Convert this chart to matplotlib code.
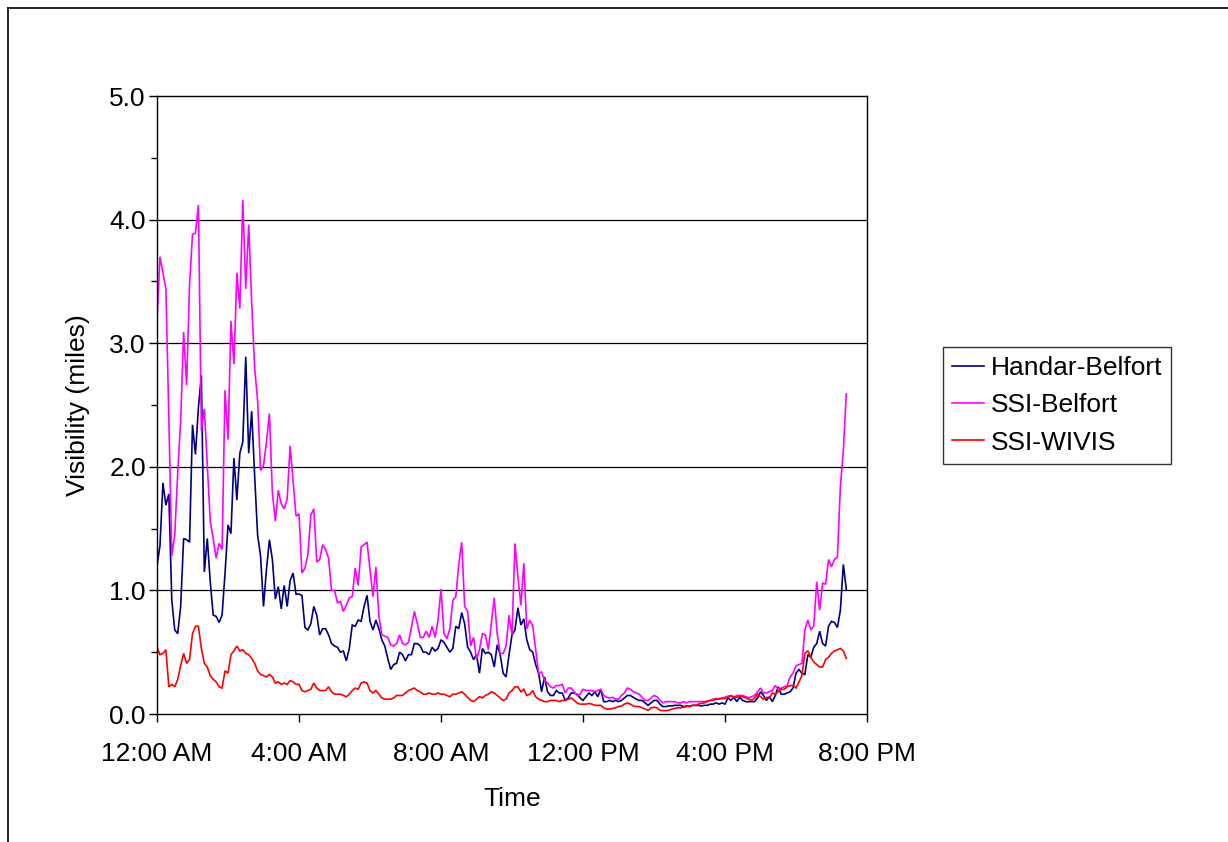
import numpy as np
import matplotlib
matplotlib.use("Agg")
import matplotlib.pyplot as plt
from matplotlib.lines import Line2D

plt.rcParams['font.family'] = ['Liberation Sans', 'DejaVu Sans']

# 5-minute visibility readings (miles), starting at midnight
handar_belfort = [
    1.20, 1.36, 1.87, 1.69, 1.78, 0.92, 0.68, 0.65, 0.87, 1.42,
    1.41, 1.39, 2.34, 2.10, 2.48, 2.74, 1.15, 1.42, 1.07, 0.80,
    0.79, 0.74, 0.80, 1.14, 1.53, 1.46, 2.07, 1.73, 2.11, 2.20,
    2.89, 2.11, 2.45, 1.93, 1.45, 1.28, 0.87, 1.17, 1.41, 1.25,
    0.93, 1.03, 0.85, 1.04, 0.87, 1.08, 1.14, 0.97, 0.97, 0.96,
    0.70, 0.68, 0.73, 0.87, 0.80, 0.64, 0.69, 0.69, 0.64, 0.57,
    0.55, 0.54, 0.50, 0.51, 0.43, 0.53, 0.72, 0.71, 0.76, 0.75,
    0.87, 0.96, 0.75, 0.68, 0.76, 0.69, 0.60, 0.55, 0.45,
    0.36, 0.40, 0.41, 0.50, 0.48, 0.43, 0.48, 0.48, 0.57, 0.57,
    0.55, 0.50, 0.50, 0.48, 0.54, 0.51, 0.53, 0.60, 0.58, 0.54,
    0.50, 0.53, 0.71, 0.69, 0.82, 0.73, 0.54, 0.50, 0.44, 0.48,
    0.33, 0.53, 0.49, 0.50, 0.48, 0.38, 0.56, 0.48, 0.33,
    0.30, 0.48, 0.64, 0.68, 0.86, 0.72, 0.77, 0.60, 0.52, 0.50,
    0.40, 0.33, 0.18, 0.30, 0.18, 0.15, 0.15, 0.19, 0.17, 0.17,
    0.11, 0.13, 0.17, 0.17, 0.16, 0.13, 0.11, 0.14,
    0.17, 0.15, 0.18, 0.14, 0.20, 0.10, 0.10, 0.11, 0.10, 0.11,
    0.10, 0.11, 0.13, 0.15, 0.15, 0.135, 0.12, 0.11, 0.11, 0.09,
    0.07, 0.09, 0.11, 0.11, 0.08, 0.06, 0.06, 0.065, 0.065, 0.07,
    0.07, 0.07, 0.06, 0.065, 0.06, 0.07, 0.07, 0.07, 0.065, 0.07,
    0.07, 0.08, 0.08, 0.09, 0.08, 0.09, 0.08, 0.13, 0.11, 0.135,
    0.10, 0.135,
    0.11, 0.10, 0.10, 0.10, 0.10, 0.13, 0.18, 0.15, 0.11, 0.14,
    0.10, 0.15, 0.22, 0.16, 0.16, 0.17, 0.18, 0.21, 0.33, 0.36,
    0.33, 0.32, 0.48, 0.46, 0.54, 0.57, 0.67, 0.57, 0.55, 0.71,
    0.75, 0.74, 0.70, 0.84, 1.21, 1.01,
]

ssi_belfort = [
    3.18, 3.70, 3.57, 3.44, 2.40, 1.28, 1.45, 1.95, 2.37, 3.09,
    2.66, 3.47, 3.88, 3.89, 4.12, 2.29, 2.47, 2.01, 1.56, 1.42,
    1.26, 1.38, 1.33, 2.62, 2.22, 3.18, 2.83, 3.57, 3.28, 4.16,
    3.44, 3.96, 3.33, 2.80, 2.54, 1.97, 2.01, 2.20, 2.43, 1.79,
    1.56, 1.81, 1.70, 1.66, 1.74, 2.17, 1.89, 1.60, 1.62, 1.14,
    1.18, 1.29, 1.61, 1.66, 1.23, 1.25, 1.37, 1.33, 1.26, 1.00,
    1.00, 0.90, 0.91, 0.83, 0.88, 0.94, 0.95, 1.18, 1.04, 1.35,
    1.37, 1.39, 1.17, 0.95, 1.19, 0.79, 0.64, 0.63, 0.62,
    0.56, 0.55, 0.57, 0.64, 0.57, 0.56, 0.58, 0.70, 0.83, 0.73,
    0.62, 0.62, 0.67, 0.62, 0.71, 0.62, 0.76, 1.01, 0.65, 0.61,
    0.69, 0.92, 0.95, 1.21, 1.39, 0.87, 0.83, 0.55, 0.62, 0.44,
    0.52, 0.65, 0.64, 0.52, 0.73, 0.94, 0.65, 0.49, 0.49,
    0.55, 0.80, 0.64, 1.38, 1.11, 0.88, 1.22, 0.69, 0.76, 0.71,
    0.52, 0.33, 0.34, 0.27, 0.25, 0.22, 0.21, 0.23, 0.23, 0.24,
    0.17, 0.21, 0.21, 0.18, 0.15, 0.16, 0.20, 0.19,
    0.19, 0.19, 0.18, 0.19, 0.20, 0.15, 0.135, 0.13, 0.135, 0.12,
    0.12, 0.15, 0.17, 0.21, 0.20, 0.18, 0.17, 0.16, 0.135, 0.11,
    0.11, 0.13, 0.15, 0.14, 0.11, 0.09, 0.10, 0.10, 0.10, 0.10,
    0.09, 0.09, 0.10, 0.09, 0.10, 0.10, 0.10, 0.10, 0.10, 0.10,
    0.105, 0.11, 0.12, 0.125, 0.125, 0.13, 0.135, 0.145, 0.15, 0.135,
    0.15, 0.15,
    0.15, 0.14, 0.13, 0.14, 0.15, 0.18, 0.21, 0.17, 0.17, 0.18,
    0.19, 0.23, 0.20, 0.21, 0.22, 0.23, 0.30, 0.33, 0.39, 0.40,
    0.41, 0.68, 0.76, 0.68, 0.71, 1.07, 0.84, 1.06, 1.05, 1.25,
    1.19, 1.25, 1.27, 1.84, 2.13, 2.59,
]

ssi_wivis = [
    0.54, 0.48, 0.49, 0.52, 0.22, 0.24, 0.22, 0.28, 0.39, 0.49,
    0.41, 0.44, 0.65, 0.71, 0.71, 0.53, 0.41, 0.38, 0.31, 0.28,
    0.26, 0.22, 0.21, 0.35, 0.33, 0.48, 0.51, 0.55, 0.51, 0.52,
    0.49, 0.48, 0.45, 0.41, 0.35, 0.32, 0.31, 0.30, 0.32, 0.30,
    0.25, 0.26, 0.24, 0.25, 0.24, 0.27, 0.26, 0.24, 0.24, 0.19,
    0.18, 0.19, 0.20, 0.25, 0.21, 0.19, 0.19, 0.19, 0.22, 0.18,
    0.16, 0.16, 0.16, 0.15, 0.14, 0.16, 0.19, 0.21, 0.20, 0.25,
    0.26, 0.25, 0.19, 0.17, 0.19, 0.16, 0.13, 0.12, 0.12,
    0.12, 0.13, 0.15, 0.15, 0.15, 0.17, 0.19, 0.20, 0.21, 0.19,
    0.18, 0.16, 0.16, 0.17, 0.16, 0.16, 0.17, 0.16, 0.16, 0.15,
    0.14, 0.16, 0.16, 0.17, 0.18, 0.16, 0.135, 0.11, 0.10, 0.12,
    0.14, 0.13, 0.15, 0.16, 0.18, 0.17, 0.15, 0.13, 0.11,
    0.12, 0.17, 0.19, 0.22, 0.22, 0.18, 0.20, 0.15, 0.16, 0.19,
    0.14, 0.12, 0.11, 0.10, 0.10, 0.11, 0.11, 0.11, 0.10, 0.11,
    0.11, 0.12, 0.13, 0.11, 0.09, 0.08, 0.08, 0.08,
    0.086, 0.08, 0.07, 0.07, 0.07, 0.05, 0.04, 0.04, 0.045, 0.05,
    0.06, 0.065, 0.08, 0.09, 0.08, 0.065, 0.06, 0.06, 0.05, 0.04,
    0.03, 0.05, 0.055, 0.05, 0.03, 0.027, 0.027, 0.03, 0.04, 0.045,
    0.05, 0.05, 0.055, 0.06, 0.065, 0.07, 0.07, 0.08, 0.086, 0.09,
    0.10, 0.11, 0.11, 0.12, 0.12, 0.125, 0.125, 0.135, 0.145, 0.14,
    0.135, 0.145,
    0.14, 0.13, 0.12, 0.11, 0.13, 0.16, 0.14, 0.12, 0.135, 0.13,
    0.17, 0.16, 0.18, 0.20, 0.20, 0.22, 0.23, 0.23, 0.21, 0.26,
    0.31, 0.49, 0.51, 0.46, 0.42, 0.40, 0.38, 0.38, 0.44, 0.46,
    0.49, 0.51, 0.52, 0.53, 0.51, 0.45,
]

series_names = ["Handar-Belfort", "SSI-Belfort", "SSI-WIVIS"]
series_colors = ["#000080", "#FF00FF", "#FF0000"]
tick_hours = [0, 4, 8, 12, 16, 20]
tick_labels = ["12:00 AM", "4:00 AM", "8:00 AM", "12:00 PM", "4:00 PM", "8:00 PM"]
step_minutes = 5

W, H = 1228, 842
FS = 19
fig = plt.figure(figsize=(W / 100, H / 100), dpi=100)
fig.patch.set_facecolor("white")

# chart-area border (top and left edges fall inside the canvas)
fig.add_artist(Line2D([8 / W, 1.0], [1 - 8 / H, 1 - 8 / H], transform=fig.transFigure,
                      color="black", lw=1.2))
fig.add_artist(Line2D([8 / W, 8 / W], [0.0, 1 - 8 / H], transform=fig.transFigure,
                      color="black", lw=1.2))

ax = fig.add_axes([157 / W, 1 - 714 / H, (867 - 157) / W, (714 - 96) / H])

for vals, name, col in zip([handar_belfort, ssi_belfort, ssi_wivis], series_names, series_colors):
    hours = np.arange(len(vals)) * step_minutes / 60.0
    ax.plot(hours, vals, color=col, lw=1.2, label=name, solid_joinstyle="miter")

ax.set_xlim(0, 20)
ax.set_ylim(0, 5)
ax.set_xticks(tick_hours)
ax.set_xticklabels(tick_labels)
ax.set_yticks(np.arange(0, 5.01, 1.0))
ax.set_yticklabels([f"{v:.1f}" for v in np.arange(0, 5.01, 1.0)])
ax.set_yticks(np.arange(0.5, 5.0, 1.0), minor=True)

ax.tick_params(axis="both", which="major", direction="out", length=6, width=1,
               labelsize=FS, colors="black")
ax.tick_params(axis="y", which="major", pad=2)
ax.tick_params(axis="y", which="minor", direction="out", length=4, width=1)
ax.tick_params(axis="x", which="major", pad=14)

for y in [1, 2, 3, 4]:
    ax.axhline(y, color="black", lw=0.9, zorder=0.5)

for s in ax.spines.values():
    s.set_color("black")
    s.set_linewidth(1.0)

ax.set_xlabel("Time", fontsize=FS, labelpad=15)
ax.set_ylabel("Visibility (miles)", fontsize=FS, labelpad=14)

leg = ax.legend(loc="upper left", bbox_to_anchor=(943 / W, 1 - 347 / H),
                bbox_transform=fig.transFigure, fontsize=FS, frameon=True,
                fancybox=False, edgecolor="black", handlelength=1.2,
                handletextpad=0.25, borderpad=0.35, labelspacing=0.5,
                borderaxespad=0)
leg.get_frame().set_linewidth(1.0)

fig.savefig("out.png", dpi=100, facecolor="white")
